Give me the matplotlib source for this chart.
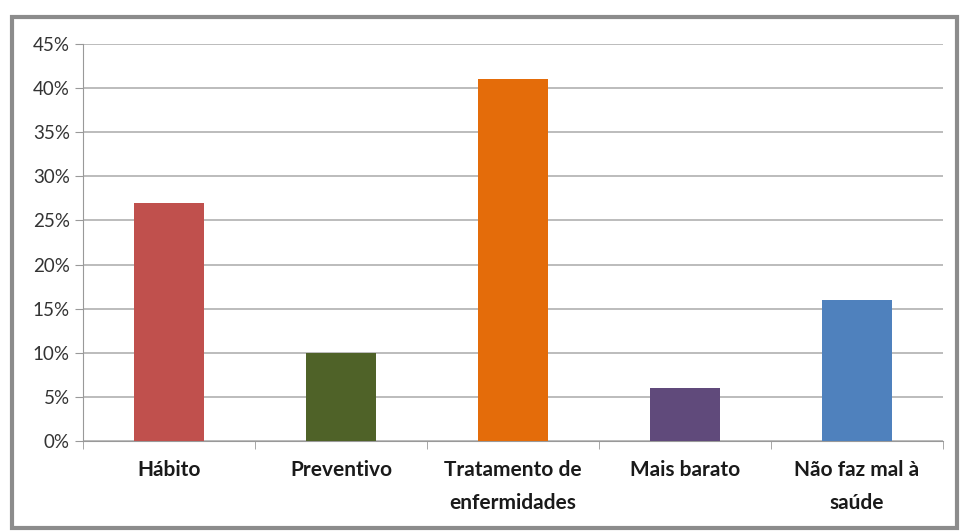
import numpy as np
from matplotlib import pyplot as plt
from matplotlib.patches import Rectangle
from matplotlib.ticker import PercentFormatter

categories = ["Hábito", "Preventivo", "Tratamento de\nenfermidades", "Mais barato", "Não faz mal à\nsaúde"]
values = [27, 10, 41, 6, 16]
colors = ["#C0504D", "#4F6228", "#E46C0A", "#604A7B", "#4F81BD"]

plt.rcParams['font.family'] = ['Lato', 'DejaVu Sans']

fig = plt.figure(figsize=(9.61, 5.31), dpi=100)
ax = fig.add_axes([0.0864, 0.1695, 0.8946, 0.7475])

x = np.arange(len(categories))
ax.bar(x, values, width=0.41, color=colors, zorder=3)

ax.set_xlim(-0.5, len(categories) - 0.5)
ax.set_ylim(0, 45)
ax.set_yticks(np.arange(0, 46, 5))
ax.yaxis.set_major_formatter(PercentFormatter(decimals=0))
ax.grid(axis='y', color='#b0b0b0', linewidth=1.2, zorder=0)

ax.set_xticks(x)
ax.set_xticklabels(categories, fontsize=15, fontweight='bold', color='#1a1a1a',
                   linespacing=1.8)
ax.tick_params(axis='x', length=0, pad=14)
ax.set_xticks(np.arange(-0.5, len(categories)), minor=True)
ax.tick_params(axis='x', which='minor', length=6, color='#999999')
ax.tick_params(axis='y', labelsize=13.5, labelcolor='#333333', length=6, color='#999999')

for side in ['top', 'right']:
    ax.spines[side].set_visible(False)
ax.spines['left'].set_color('#999999')
ax.spines['bottom'].set_color('#999999')

# outer chart frame
fig.patches.append(Rectangle((0.013, 0.006), 0.983, 0.962, transform=fig.transFigure,
                             fill=False, edgecolor='#8c8c8c', linewidth=3, zorder=-1))

fig.savefig("out.png", dpi=100)
